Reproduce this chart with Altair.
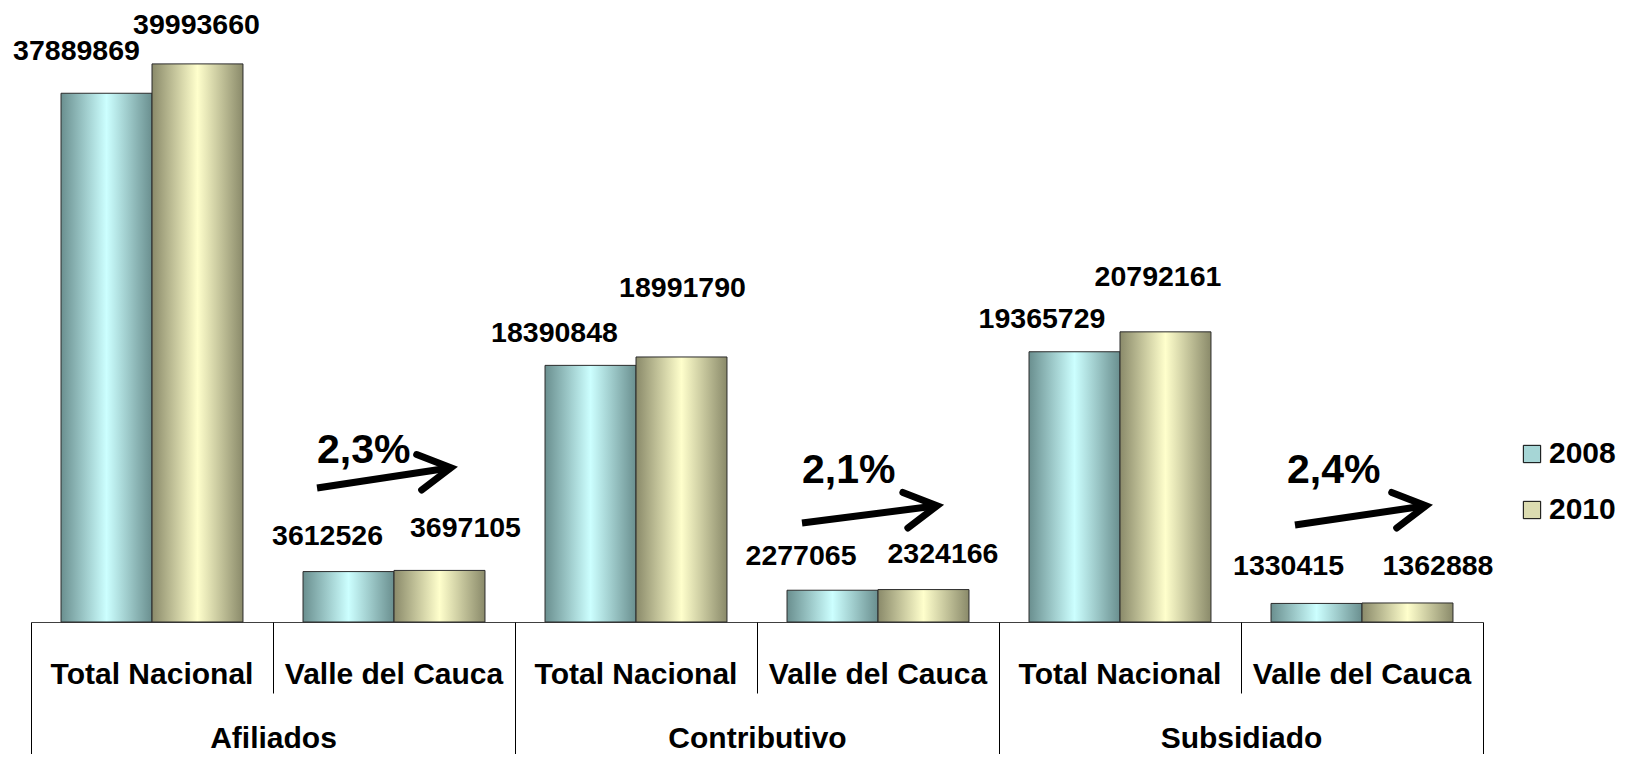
import json
import altair as alt
import pandas as pd

# ---------------- data ----------------
GROUPS = ["Afiliados", "Contributivo", "Subsidiado"]
SUBCATS = ["Total Nacional", "Valle del Cauca"]
YEARS = ["2008", "2010"]
VALUES_2008 = [37889869, 3612526, 18390848, 2277065, 19365729, 1330415]
VALUES_2010 = [39993660, 3697105, 18991790, 2324166, 20792161, 1362888]

GROWTH_LABELS = ["2,3%", "2,1%", "2,4%"]
# annotation anchors, in category units (0..6 across the axis) and value units
GROWTH_X = [1.182, 3.186, 5.190]
GROWTH_Y = [11.39e6, 9.96e6, 9.96e6]
ARROW_X_START = [1.182, 3.186, 5.223]
ARROW_X_END = [1.735, 3.744, 5.764]
ARROW_Y_START = [9.60e6, 7.09e6, 6.95e6]
ARROW_Y_END = [11.05e6, 8.33e6, 8.33e6]

# ---------------- styling ----------------
FONT = "Liberation Sans"
Y_MAX = 43.57e6
# (dx, dy) nudges for the value labels, in the order of the bars
LABEL_NUDGES = [(-30, -33), (-1, -29.5), (-21, -27), (26, -33),
                (-36, -23), (1, -60), (-31.5, -25), (19.5, -27),
                (-32.5, -24), (-7.5, -46), (-28, -28), (30.5, -28)]

keys = [f"{g}|{s}" for g in GROUPS for s in SUBCATS]
rows = []
for i, k in enumerate(keys):
    rows.append({"key": k, "year": YEARS[0], "value": VALUES_2008[i], "idx": 2 * i})
    rows.append({"key": k, "year": YEARS[1], "value": VALUES_2010[i], "idx": 2 * i + 1})
df = pd.DataFrame(rows)

ann = pd.DataFrame({
    "label": GROWTH_LABELS,
    "xt": GROWTH_X, "yt": GROWTH_Y,
    "xs": ARROW_X_START, "xe": ARROW_X_END,
    "ys": ARROW_Y_START, "ye": ARROW_Y_END,
})
edges = pd.DataFrame({"edge": [0, 2, 4, 6]})


def grad(edge, mid):
    return alt.Gradient(
        gradient="linear", x1=0, x2=1, y1=0, y2=0,
        stops=[alt.GradientStop(offset=0, color=edge),
               alt.GradientStop(offset=0.5, color=mid),
               alt.GradientStop(offset=1, color=edge)])


GRAD_2008 = grad("#6A8F8F", "#CCFFFF")
GRAD_2010 = grad("#8A8A6A", "#FFFFCC")

Y_SCALE = alt.Scale(domain=[0, Y_MAX], nice=False, zero=True)

AX_A = alt.Axis(title=None, orient="bottom", ticks=False, tickSize=0, grid=False,
                domain=True, domainColor="#404040", domainWidth=1,
                labelExpr="split(datum.label, '|')[1]", labelFont=FONT,
                labelFontSize=30, labelFontWeight="bold", labelColor="black",
                labelPadding=52, labelBaseline="middle", labelAngle=0,
                labelLimit=400, labelOverlap=False)
X_BAND = alt.X("key:N", scale=alt.Scale(domain=keys, paddingInner=0, paddingOuter=0),
               axis=AX_A)
XOFF = alt.XOffset("year:N", scale=alt.Scale(domain=YEARS, paddingInner=0, paddingOuter=0.33))
Y = alt.Y("value:Q", scale=Y_SCALE, axis=None)

base = alt.Chart(df)
bars08 = base.transform_filter(alt.datum.year == YEARS[0]).mark_bar(
    color=GRAD_2008, stroke="#2b2b2b", strokeWidth=1).encode(x=X_BAND, xOffset=XOFF, y=Y)
bars10 = base.transform_filter(alt.datum.year == YEARS[1]).mark_bar(
    color=GRAD_2010, stroke="#2b2b2b", strokeWidth=1).encode(x=X_BAND, xOffset=XOFF, y=Y)

legend_layer = base.mark_square(opacity=0, size=10).encode(
    x=X_BAND, y=Y,
    color=alt.Color("year:N", scale=alt.Scale(domain=YEARS, range=["#A6D6D6", "#DCDCB0"]),
                    legend=alt.Legend(title=None, orient="none", legendX=1486, legendY=425,
                                      direction="vertical", symbolType="square",
                                      symbolSize=300, symbolStrokeColor="black",
                                      symbolStrokeWidth=1, symbolOpacity=1,
                                      labelFont=FONT, labelFontSize=30,
                                      labelFontWeight="bold", labelColor="black",
                                      labelOffset=2, rowPadding=26, padding=0)))

labels = []
for i, (dx, dy) in enumerate(LABEL_NUDGES):
    labels.append(base.transform_filter(alt.datum.idx == i).mark_text(
        dx=dx, dy=dy, font=FONT, fontSize=28.5, fontWeight="bold", color="black",
        align="center", baseline="alphabetic").encode(
        x=X_BAND, xOffset=XOFF, y=Y, text=alt.Text("value:Q", format="d")))

band_layer = alt.layer(bars08, bars10, legend_layer, *labels)

# ---- annotation layer (category-unit x scale) with group axis ----
XQ = alt.Scale(domain=[0, 6], nice=False, zero=False)
AX_B = alt.Axis(title=None, orient="bottom", values=[1, 3, 5], domain=False, grid=False,
                ticks=True, tickSize=71, tickColor="black", tickWidth=1,
                labelExpr=f"{json.dumps(GROUPS)}[floor(datum.value / 2)]",
                labelFont=FONT, labelFontSize=30, labelFontWeight="bold",
                labelColor="black", labelPadding=45, labelBaseline="middle",
                labelAngle=0, labelLimit=400, labelOverlap=False, labelFlush=False)
abase = alt.Chart(ann)
shaft = abase.mark_rule(strokeWidth=7, color="black", strokeCap="butt").encode(
    x=alt.X("xs:Q", scale=XQ, axis=AX_B), x2="xe:Q",
    y=alt.Y("ys:Q", scale=Y_SCALE, axis=None), y2="ye:Q")
head = abase.mark_point(shape="M -1 -0.56 L 0 0 L -1 0.56", size=4096, filled=False,
                        color="black", strokeWidth=7, strokeJoin="miter",
                        strokeCap="round", angle=352, opacity=1).encode(
    x=alt.X("xe:Q", scale=XQ, axis=AX_B), y=alt.Y("ye:Q", scale=Y_SCALE, axis=None))
pct = abase.mark_text(align="left", baseline="alphabetic", font=FONT, fontSize=41,
                      fontWeight="bold", color="black").encode(
    x=alt.X("xt:Q", scale=XQ, axis=AX_B), y=alt.Y("yt:Q", scale=Y_SCALE, axis=None),
    text="label:N")
ann_layer = alt.layer(shaft, head, pct)

# ---- group boundary lines ----
AX_C = alt.Axis(title=None, orient="bottom", values=[0, 2, 4, 6], domain=False, grid=False,
                ticks=True, tickSize=140, tickColor="black", tickWidth=1, labels=False)
edge_layer = alt.Chart(edges).mark_point(opacity=0).encode(
    x=alt.X("edge:Q", scale=alt.Scale(domain=[0, 6], nice=False, zero=False), axis=AX_C))

chart = alt.layer(band_layer, ann_layer, edge_layer).resolve_scale(
    x="independent").properties(
    width=1452, height=608,
    padding={"left": 23, "top": 6, "right": 137, "bottom": 132},
    autosize=alt.AutoSizeParams(type="none"),
).configure_view(strokeWidth=0)

chart.save("out.html", embed_options={"renderer": "svg", "actions": False})
